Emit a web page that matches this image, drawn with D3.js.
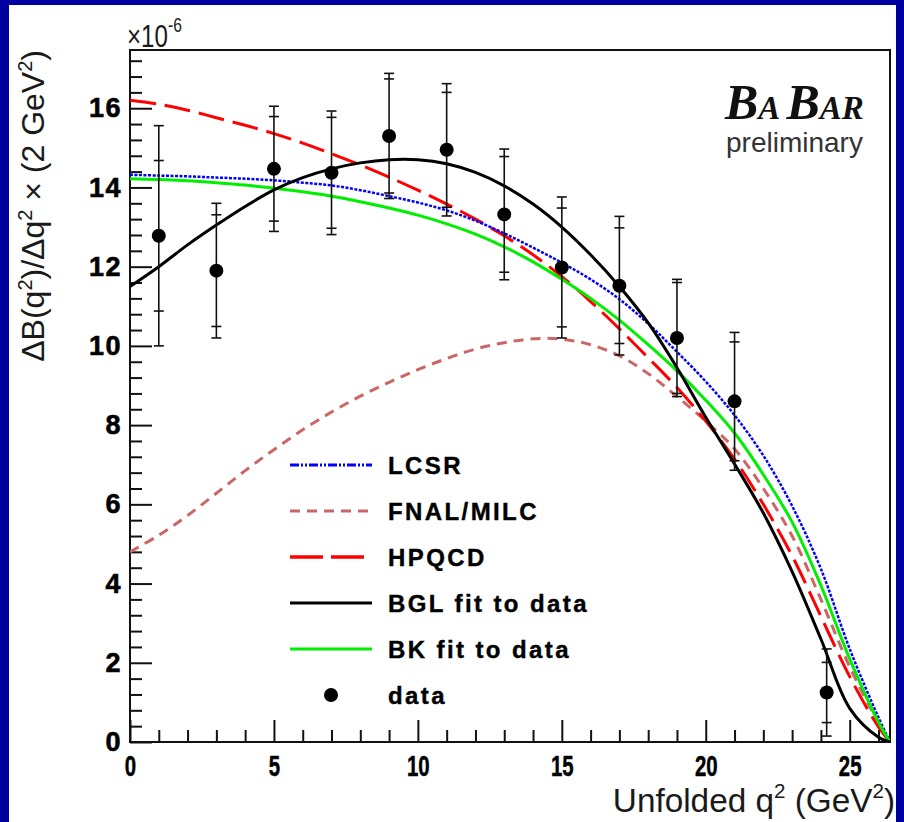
<!DOCTYPE html>
<html><head><meta charset="utf-8">
<script src="https://cdn.jsdelivr.net/npm/d3@7/dist/d3.min.js"></script>
<style>body{margin:0;background:#fff} svg{display:block}</style>
</head><body>
<svg id="c" width="904" height="822"></svg>
<script>
// ---------- data ----------
const qGrid = [0,1,2,3,4,5,6,7,8,9,10,11,12,13,14,15,16,17,18,19,20,21,22,23,24,25,26,26.4];
const lcsr  = [14.32,14.30,14.28,14.25,14.22,14.18,14.12,14.05,13.93,13.78,13.62,13.42,13.16,12.84,12.48,12.10,11.68,11.18,10.56,9.85,9.10,8.25,7.23,5.96,4.37,2.35,0.62,0];
const fnal  = [4.80,5.22,5.72,6.28,6.85,7.38,7.88,8.33,8.73,9.08,9.40,9.68,9.92,10.08,10.18,10.17,10.03,9.75,9.30,8.72,8.10,7.40,6.40,5.20,3.60,1.90,0.48,0];
const hpqcd = [16.20,16.10,15.95,15.76,15.57,15.36,15.12,14.85,14.57,14.26,13.93,13.58,13.20,12.78,12.30,11.75,11.12,10.43,9.70,8.95,8.10,7.14,6.00,4.70,3.17,1.65,0.38,0];
const bgl   = [11.50,12.00,12.55,13.05,13.52,13.94,14.25,14.47,14.62,14.70,14.70,14.60,14.38,14.04,13.58,13.00,12.30,11.50,10.58,9.45,8.20,7.02,5.78,4.30,2.60,0.85,0.12,0];
const bk    = [14.22,14.20,14.17,14.12,14.06,13.98,13.89,13.78,13.64,13.48,13.30,13.08,12.82,12.50,12.12,11.68,11.20,10.65,10.03,9.37,8.63,7.80,6.75,5.55,3.95,2.10,0.50,0];

const dataX   = [1,3,5,7,9,11,13,15,17,19,21,24.2];
const dataY   = [12.78,11.90,14.47,14.37,15.30,14.95,13.32,11.98,11.52,10.20,8.60,1.25];
const statErr = [1.90,1.41,1.32,1.40,1.44,1.45,1.46,1.50,1.46,1.40,1.50,0.76];
const totErr  = [2.78,1.70,1.58,1.56,1.58,1.67,1.65,1.78,1.75,1.48,1.74,1.10];

const xTicks = [0,5,10,15,20,25];
const yTicks = [0,2,4,6,8,10,12,14,16];
const legendLabels = ["LCSR","FNAL/MILC","HPQCD","BGL fit to data","BK fit to data","data"];

// ---------- layout ----------
const W=904,H=822;
const L=130,R=890,T=50,B=742;
const svg = d3.select("#c");
svg.append("rect").attr("width",W).attr("height",H).attr("fill","#0000a0");
svg.append("rect").attr("x",9).attr("y",5).attr("width",887).attr("height",H).attr("fill","#fff");

const x = d3.scaleLinear().domain([0,26.4]).range([L,R]);
const y = d3.scaleLinear().domain([0,17.47]).range([B,T]);

// axes
const yMinor = d3.range(0,17.4,0.4).filter(v=>Math.abs(v/2-Math.round(v/2))>1e-6);
const xMinor = d3.range(0,27,1).filter(v=>v%5!==0);

const gy = svg.append("g").attr("transform",`translate(${L},0)`);
gy.call(d3.axisLeft(y).tickValues(yMinor).tickSize(-12).tickFormat(""));
gy.call(g=>g.select(".domain").remove());
const gy2 = svg.append("g").attr("transform",`translate(${L},0)`);
gy2.call(d3.axisLeft(y).tickValues(yTicks).tickSize(-22).tickPadding(8).tickFormat(d3.format("d")));
gy2.select(".domain").remove();
svg.selectAll("g.tick line").attr("stroke","#111").attr("stroke-width",2);
gy2.selectAll("text").attr("font-family","Liberation Sans, Arial, sans-serif")
   .attr("font-weight","bold").attr("font-size",27).attr("fill","#000")
   .attr("letter-spacing",1.5).attr("stroke","#000").attr("stroke-width",0.6);

const gx = svg.append("g").attr("transform",`translate(0,${B})`);
gx.call(d3.axisBottom(x).tickValues(xMinor).tickSize(-12).tickFormat(""));
gx.select(".domain").remove();
const gx2 = svg.append("g").attr("transform",`translate(0,${B})`);
gx2.call(d3.axisBottom(x).tickValues(xTicks).tickSize(-22).tickPadding(8).tickFormat(d3.format("d")));
gx2.select(".domain").remove();
svg.selectAll("g.tick line").attr("stroke","#111").attr("stroke-width",2);
gx2.selectAll("text").attr("font-family","Liberation Sans, Arial, sans-serif")
   .attr("font-weight","bold").attr("font-size",30).attr("fill","#000")
   .attr("transform","scale(0.68,1)").attr("dy","0.88em")
   .attr("stroke","#000").attr("stroke-width",0.5);

// frame
svg.append("rect").attr("x",L).attr("y",T).attr("width",R-L).attr("height",B-T)
   .attr("fill","none").attr("stroke","#111").attr("stroke-width",2);

// curves
const clipId="plotclip";
svg.append("clipPath").attr("id",clipId).append("rect").attr("x",L).attr("y",T).attr("width",R-L).attr("height",B-T);
const line = d3.line().x(d=>x(d[0])).y(d=>y(d[1])).curve(d3.curveCatmullRom.alpha(0.5));
const styles = [
  {vals:fnal,  color:"#cc6666", w:3,   dash:"10,7"},
  {vals:hpqcd, color:"#ff0000", w:3,   dash:"26,9"},
  {vals:lcsr,  color:"#0000ff", w:2.5, dash:"3,1.5"},
  {vals:bk,    color:"#00ee00", w:3,   dash:null},
  {vals:bgl,   color:"#000000", w:3,   dash:null}
];
const gc = svg.append("g").attr("clip-path",`url(#${clipId})`);
styles.forEach(s=>{
  gc.append("path").datum(qGrid.map((q,i)=>[q,s.vals[i]]))
    .attr("d",line).attr("fill","none").attr("stroke",s.color)
    .attr("stroke-width",s.w).attr("stroke-dasharray",s.dash);
});

// data with error bars
const gd = svg.append("g");
dataX.forEach((xv,i)=>{
  const cx=x(xv), v=dataY[i];
  gd.append("line").attr("x1",cx).attr("x2",cx).attr("y1",y(v-totErr[i])).attr("y2",y(v+totErr[i]))
    .attr("stroke","#111").attr("stroke-width",1.6);
  [v-totErr[i],v+totErr[i],v-statErr[i],v+statErr[i]].forEach(e=>{
    gd.append("line").attr("x1",cx-5).attr("x2",cx+5).attr("y1",y(e)).attr("y2",y(e))
      .attr("stroke","#111").attr("stroke-width",1.6);
  });
  gd.append("circle").attr("cx",cx).attr("cy",y(v)).attr("r",7).attr("fill","#000");
});

// legend
const legStyles = [
  {color:"#0000ff", w:3, dash:"9,2,2,2,2,2"},
  {color:"#cc6666", w:3, dash:"10,7"},
  {color:"#ff0000", w:3.5, dash:"33,8"},
  {color:"#000000", w:3, dash:null},
  {color:"#00ee00", w:3, dash:null},
  null
];
const gl = svg.append("g");
legendLabels.forEach((lab,i)=>{
  const yy = 465 + i*46;
  const s = legStyles[i];
  if (s) {
    gl.append("line").attr("x1",290).attr("x2",372).attr("y1",yy).attr("y2",yy)
      .attr("stroke",s.color).attr("stroke-width",s.w).attr("stroke-dasharray",s.dash);
  } else {
    gl.append("circle").attr("cx",331).attr("cy",yy).attr("r",7).attr("fill","#000");
  }
  gl.append("text").attr("x",388).attr("y",yy).attr("dy","0.36em")
    .attr("font-family","Liberation Sans, Arial, sans-serif").attr("font-weight","bold")
    .attr("font-size",24).attr("letter-spacing",2.4).attr("fill","#000")
    .attr("stroke","#000").attr("stroke-width",0.4).text(lab);
});

// titles
const yt = svg.append("text").attr("transform",`translate(44,${T}) rotate(-90)`)
  .attr("text-anchor","end").attr("font-family","Liberation Sans, Arial, sans-serif")
  .attr("font-size",32).attr("fill","#1a1a1a");
yt.append("tspan").text("ΔB(q");
yt.append("tspan").attr("dy",-12).attr("font-size",20).text("2");
yt.append("tspan").attr("dy",12).text(")/Δq");
yt.append("tspan").attr("dy",-12).attr("font-size",20).text("2");
yt.append("tspan").attr("dy",12).text(" × (2 GeV");
yt.append("tspan").attr("dy",-12).attr("font-size",20).text("2");
yt.append("tspan").attr("dy",12).text(")");

const xt = svg.append("text").attr("transform",`translate(895,812) scale(0.98,1)`)
  .attr("text-anchor","end").attr("font-family","Liberation Sans, Arial, sans-serif")
  .attr("font-size",34).attr("fill","#1a1a1a");
xt.append("tspan").text("Unfolded q");
xt.append("tspan").attr("dy",-14).attr("font-size",21).text("2");
xt.append("tspan").attr("dy",14).text(" (GeV");
xt.append("tspan").attr("dy",-14).attr("font-size",21).text("2");
xt.append("tspan").attr("dy",14).text(")");

const ex = svg.append("text").attr("transform","translate(127,47) scale(0.78,1)")
  .attr("font-family","Liberation Sans, Arial, sans-serif").attr("font-size",31).attr("fill","#1a1a1a");
ex.append("tspan").text("×10");
ex.append("tspan").attr("dy",-15).attr("font-size",20).text("-6");

// logo
const lg = svg.append("text").attr("x",725).attr("y",119)
  .attr("font-family","Liberation Serif, Times New Roman, serif").attr("font-style","italic")
  .attr("font-weight","bold").attr("fill","#111");
lg.append("tspan").attr("font-size",50).text("B");
lg.append("tspan").attr("font-size",33).text("A");
lg.append("tspan").attr("font-size",50).attr("dx",6).text("B");
lg.append("tspan").attr("font-size",33).text("A");
lg.append("tspan").attr("font-size",33).text("R");
svg.append("text").attr("x",726).attr("y",152).attr("font-family","Liberation Sans, Arial, sans-serif")
  .attr("font-size",28).attr("fill","#333").text("preliminary");
</script>
</body></html>
